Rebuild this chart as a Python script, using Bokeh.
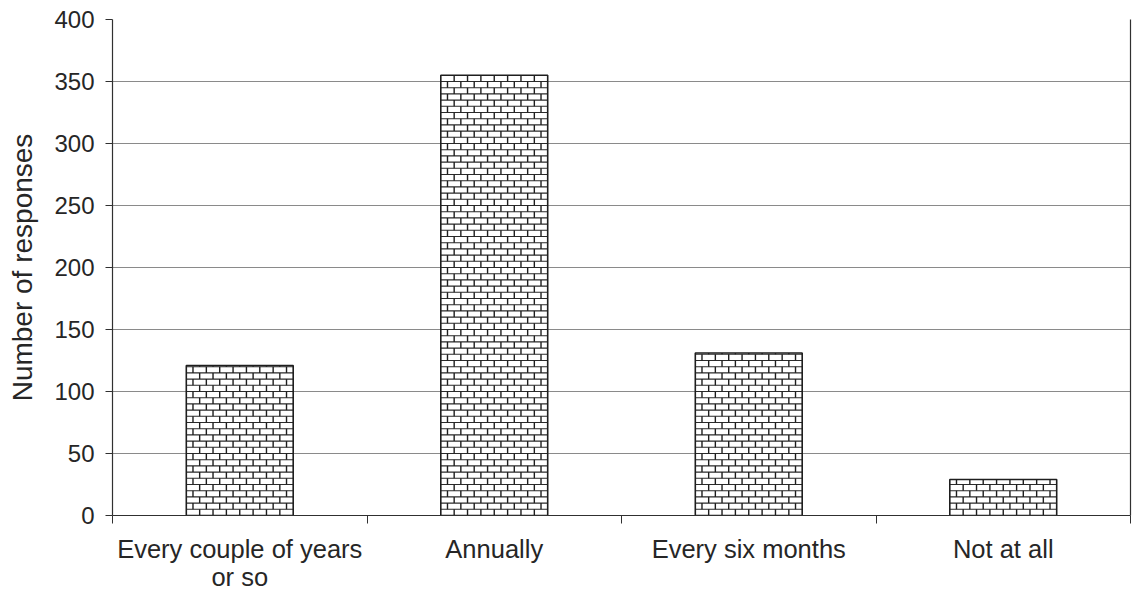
from bokeh.plotting import figure
from bokeh.models import Range1d, LinearAxis, FixedTicker
from bokeh.embed import file_html
from bokeh.resources import INLINE

# ---- data ----
categories = ["Every couple of years\nor so", "Annually", "Every six months", "Not at all"]
responses = [121, 355, 131, 29]
y_ticks = [0, 50, 100, 150, 200, 250, 300, 350, 400]
y_label = "Number of responses"

FONT = "Liberation Sans"
TEXT = "#262626"
LINE = "#303030"

n = len(categories)
centers = [i + 0.5 for i in range(n)]
edges = [i for i in range(n + 1)]
bar_w = 0.42

# brick texture for each bar, derived from the bar extents
row_h = 5.0            # data units per brick row
bricks_per_row = 8
hx0, hy0, hx1, hy1 = [], [], [], []
vx0, vy0, vx1, vy1 = [], [], [], []
for c, top in zip(centers, responses):
    left, right = c - bar_w / 2, c + bar_w / 2
    bw = bar_w / bricks_per_row
    r = 0
    y = 0.0
    while y < top:
        ytop = min(y + row_h, top)
        if ytop < top:
            hx0.append(left); hx1.append(right); hy0.append(ytop); hy1.append(ytop)
        off = 0.0 if r % 2 == 0 else 0.5
        k = 1 - off if off else 1
        xs = []
        j = 0
        while True:
            xv = left + (j + (0.5 if r % 2 else 1.0)) * bw
            if xv >= right - 1e-9:
                break
            xs.append(xv)
            j += 1
        for xv in xs:
            vx0.append(xv); vx1.append(xv); vy0.append(y); vy1.append(ytop)
        y += row_h
        r += 1

p = figure(width=1137, height=593, output_backend="svg", toolbar_location=None,
           x_range=Range1d(0, n), y_range=Range1d(0, 400),
           x_axis_location=None, y_axis_location=None,
           min_border_left=112, min_border_right=7, min_border_top=19, min_border_bottom=77,
           background_fill_color="#ffffff", border_fill_color="#ffffff")
p.outline_line_color = None

p.vbar(x=centers, top=responses, bottom=0, width=bar_w,
       fill_color="#ffffff", line_color=None)
p.segment(x0=hx0, y0=hy0, x1=hx1, y1=hy1, line_color="#2a2a2a", line_width=1.1)
p.segment(x0=vx0, y0=vy0, x1=vx1, y1=vy1, line_color="#1e1e1e", line_width=1.4)
p.vbar(x=centers, top=responses, bottom=0, width=bar_w,
       fill_color=None, line_color="#1e1e1e", line_width=1.6)

# y axis
yax = LinearAxis(ticker=FixedTicker(ticks=y_ticks, minor_ticks=[]),
                 axis_label=y_label)
yax.axis_line_color = LINE
yax.axis_line_width = 1.2
yax.major_tick_in = 0
yax.major_tick_out = 7
yax.major_tick_line_color = LINE
yax.minor_tick_line_color = None
yax.major_label_standoff = 11
yax.major_label_text_font = FONT
yax.major_label_text_font_size = "24px"
yax.major_label_text_color = TEXT
yax.axis_label_text_font = FONT
yax.axis_label_text_font_size = "28px"
yax.axis_label_text_font_style = "normal"
yax.axis_label_text_color = TEXT
yax.axis_label_standoff = 13
p.add_layout(yax, "left")

# x axis: labels at category centres, ticks at category boundaries
xax = LinearAxis(ticker=FixedTicker(ticks=centers, minor_ticks=edges))
xax.major_label_overrides = {c: lab for c, lab in zip(centers, categories)}
xax.axis_line_color = LINE
xax.axis_line_width = 1.2
xax.major_tick_line_color = None
xax.major_tick_out = 0
xax.major_tick_in = 0
xax.minor_tick_line_color = LINE
xax.minor_tick_out = 8
xax.minor_tick_in = 0
xax.major_label_standoff = 11
xax.major_label_text_font = FONT
xax.major_label_text_font_size = "25.5px"
xax.major_label_text_color = TEXT
xax.major_label_text_line_height = 1.0
p.add_layout(xax, "below")

# right border line
rax = LinearAxis(ticker=FixedTicker(ticks=[], minor_ticks=[]))
rax.axis_line_color = LINE
rax.axis_line_width = 1.2
rax.major_tick_line_color = None
rax.minor_tick_line_color = None
rax.major_label_text_font_size = "0px"
rax.major_label_standoff = 0
p.add_layout(rax, "right")

p.xgrid.visible = False
p.ygrid.ticker = FixedTicker(ticks=y_ticks)
p.ygrid.grid_line_color = "#8a8a8a"
p.ygrid.grid_line_width = 1

open("out.html", "w").write(file_html(p, INLINE))
